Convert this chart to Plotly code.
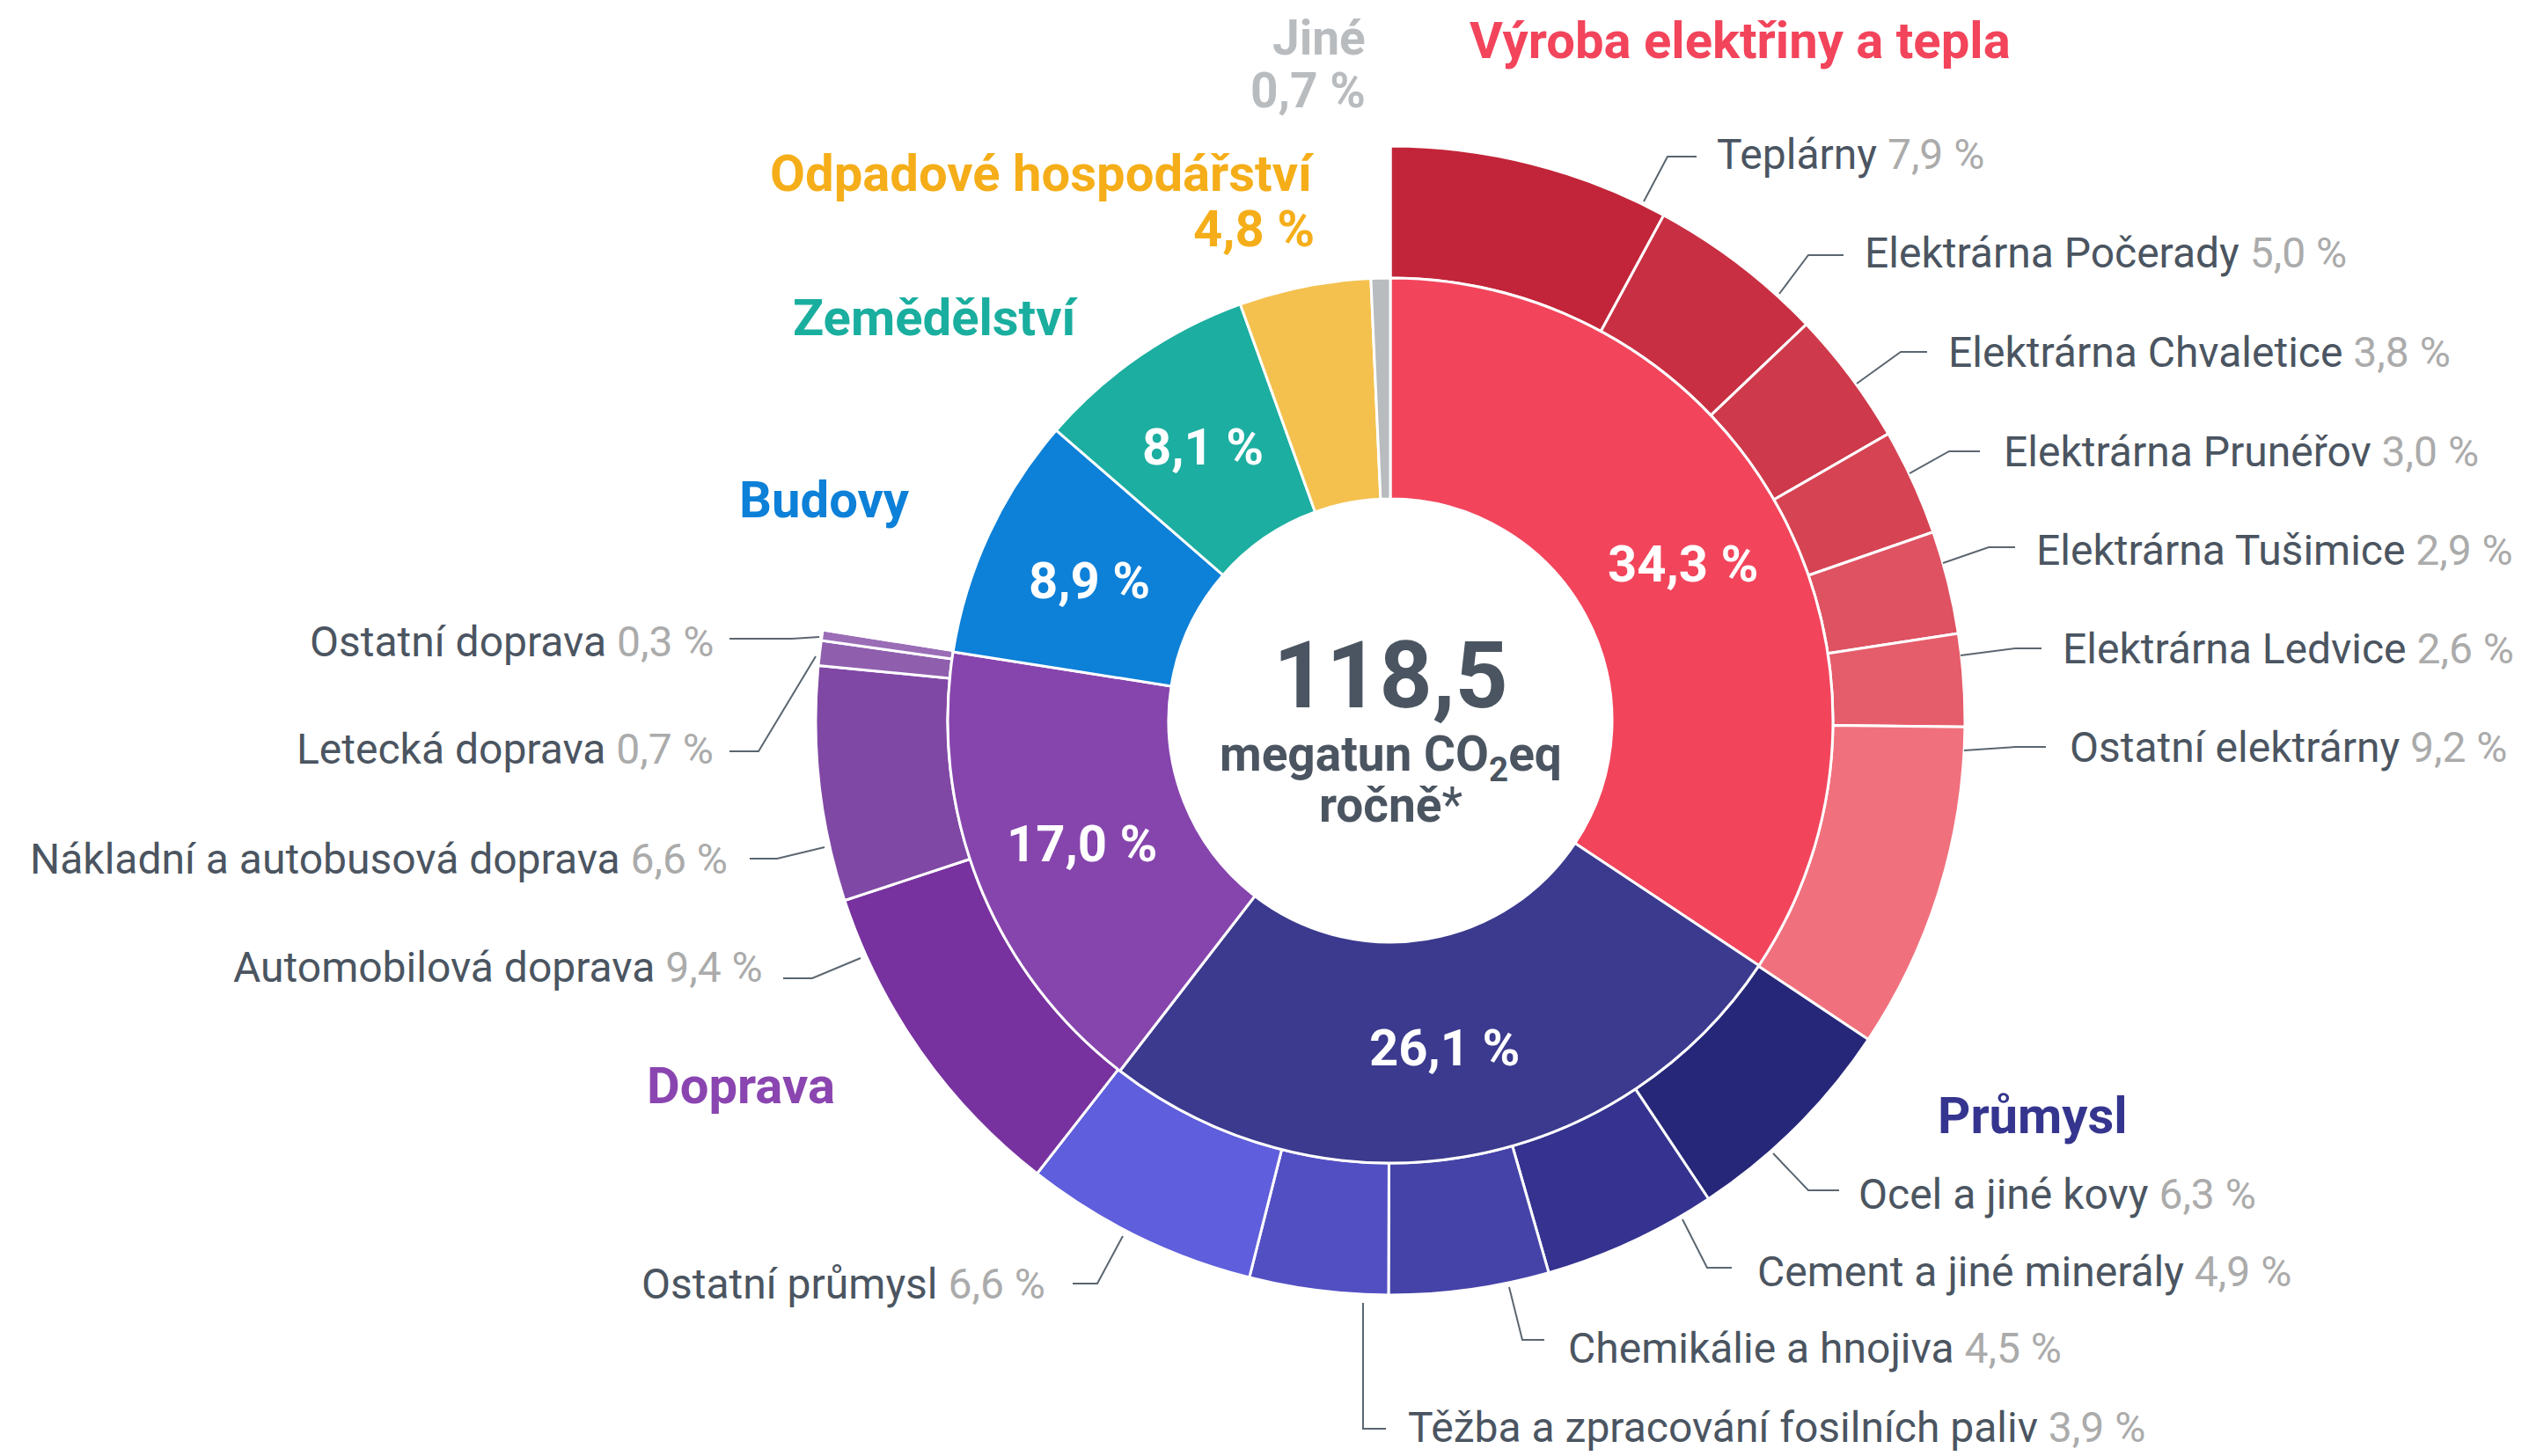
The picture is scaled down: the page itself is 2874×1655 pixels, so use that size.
import math
import plotly.graph_objects as go

# ---------------- data ----------------
sectors = ["Výroba elektřiny a tepla", "Průmysl", "Doprava", "Budovy",
           "Zemědělství", "Odpadové hospodářství", "Jiné"]
sector_values = [34.3, 26.1, 17.0, 8.9, 8.1, 4.8, 0.7]

power_labels = ["Teplárny", "Elektrárna Počerady", "Elektrárna Chvaletice",
                "Elektrárna Prunéřov", "Elektrárna Tušimice", "Elektrárna Ledvice",
                "Ostatní elektrárny"]
power_values = [7.9, 5.0, 3.8, 3.0, 2.9, 2.6, 9.2]

industry_labels = ["Ocel a jiné kovy", "Cement a jiné minerály", "Chemikálie a hnojiva",
                   "Těžba a zpracování fosilních paliv", "Ostatní průmysl"]
industry_values = [6.3, 4.9, 4.5, 3.9, 6.6]

transport_labels = ["Automobilová doprava", "Nákladní a autobusová doprava",
                    "Letecká doprava", "Ostatní doprava"]
transport_values = [9.4, 6.6, 0.7, 0.3]

total_mt = 118.5
center_unit = "megatun CO<sub>2</sub>eq"
center_period = "ročně"

# ---------------- styles ----------------
sector_colors = ["#F2455C", "#3B3A8E", "#8645AD", "#0D80D8", "#1CAEA0", "#F4C14F", "#B9BCBF"]
title_colors = ["#F2445B", "#35358F", "#8A45B0", "#0D80D8", "#1AAE9F", "#F5AE19", "#B9BCBF"]
power_colors = ["#C22539", "#C82F42", "#CE3A4B", "#D64453", "#DE5262", "#E55D6A", "#F0717D"]
industry_colors = ["#27277A", "#35338F", "#4543A8", "#524FC3", "#5F5EDC"]
transport_colors = ["#77329F", "#8048A5", "#8F5FAE", "#9B6DB7"]

DARK = "#4B5561"
GREY = "#ABABAB"
LEADER = "#5B6670"
FONT = "Roboto"

W, H = 2874, 1655
CX, CY = 1580, 819
R_OUT, R_MID, R_HOLE = 653, 503, 252


def fmt(v):
    return f"{v:.1f}".replace(".", ",") + " %"


def px(x):
    return x / W


def py(y):
    return 1 - y / H


def dom(r):
    return dict(x=[px(CX - r), px(CX + r)], y=[py(CY + r), py(CY - r)])


fig = go.Figure()

# outer ring (sub-sectors), remainder transparent
outer_vals = power_values + industry_values + transport_values + [sum(sector_values[3:])]
outer_labels = power_labels + industry_labels + transport_labels + ["_rest"]
outer_cols = power_colors + industry_colors + transport_colors + ["rgba(0,0,0,0)"]
fig.add_trace(go.Pie(
    values=outer_vals, labels=outer_labels, sort=False, direction="clockwise", rotation=0,
    hole=R_MID / R_OUT, domain=dom(R_OUT), textinfo="none", hoverinfo="skip",
    marker=dict(colors=outer_cols, line=dict(color="white", width=3)),
    showlegend=False,
))

# inner ring (sectors)
fig.add_trace(go.Pie(
    values=sector_values, labels=sectors, sort=False, direction="clockwise", rotation=0,
    hole=R_HOLE / R_MID, domain=dom(R_MID), textinfo="none", hoverinfo="skip",
    marker=dict(colors=sector_colors, line=dict(color="white", width=3)),
    showlegend=False,
))

annotations = []
shapes = []

# inner ring percentages
tot = sum(sector_values)
cum = 0.0
r_lab = (R_HOLE + R_MID) / 2
for v in sector_values:
    mid = (cum + v / 2) / tot * 2 * math.pi
    cum += v
    if v < 5:
        continue
    x = CX + r_lab * math.sin(mid)
    y = CY - r_lab * math.cos(mid)
    annotations.append(dict(x=px(x), y=py(y), xref="paper", yref="paper",
                            text=f"<b>{fmt(v)}</b>", showarrow=False,
                            font=dict(family=FONT, size=58, color="white"),
                            xanchor="center", yanchor="middle"))

# center text
annotations.append(dict(x=px(CX), y=py(768), xref="paper", yref="paper",
                        text="<b>" + f"{total_mt:.1f}".replace(".", ",") + "</b>",
                        showarrow=False, font=dict(family=FONT, size=105, color=DARK),
                        xanchor="center", yanchor="middle"))
annotations.append(dict(x=px(CX), y=py(861), xref="paper", yref="paper",
                        text=f"<b>{center_unit}</b>", showarrow=False,
                        font=dict(family=FONT, size=55, color=DARK),
                        xanchor="center", yanchor="middle"))
annotations.append(dict(x=px(CX), y=py(915), xref="paper", yref="paper",
                        text=f"<b>{center_period}</b>*", showarrow=False,
                        font=dict(family=FONT, size=55, color=DARK),
                        xanchor="center", yanchor="middle"))

# sector titles: (x, y, anchor, percent line y or None, font size)
title_pos = [
    (1668, 46, "left", None, 58),
    (2200, 1268, "left", None, 58),
    (951, 1234, "right", None, 58),
    (1036, 568, "right", None, 58),
    (1228, 361, "right", None, 58),
    (1496, 197, "right", 260, 58),
    (1554, 43, "right", 103, 55),
]
for name, v, col, (x, y, anc, y2, fs) in zip(sectors, sector_values, title_colors, title_pos):
    annotations.append(dict(x=px(x), y=py(y), xref="paper", yref="paper",
                            text=f"<b>{name}</b>", showarrow=False,
                            font=dict(family=FONT, size=fs, color=col),
                            xanchor=anc, yanchor="middle"))
    if y2 is not None:
        annotations.append(dict(x=px(x), y=py(y2), xref="paper", yref="paper",
                                text=f"<b>{fmt(v)}</b>", showarrow=False,
                                font=dict(family=FONT, size=fs, color=col),
                                xanchor=anc, yanchor="middle"))

# sub-sector labels with leader lines: (x, y, anchor, leader points)
sub_pos = [
    (1949, 176, "left", [(1868, 229), (1895, 178), (1928, 178)]),
    (2117, 288, "left", [(2022, 334), (2055, 290), (2095, 290)]),
    (2212, 400, "left", [(2110, 436), (2160, 400), (2190, 400)]),
    (2275, 513, "left", [(2170, 538), (2215, 513), (2250, 513)]),
    (2312, 625, "left", [(2208, 640), (2260, 622), (2290, 622)]),
    (2342, 737, "left", [(2228, 745), (2290, 737), (2320, 737)]),
    (2350, 849, "left", [(2232, 853), (2290, 849), (2325, 849)]),
    (2110, 1357, "left", [(2015, 1311), (2055, 1353), (2090, 1353)]),
    (1995, 1445, "left", [(1912, 1386), (1940, 1441), (1968, 1441)]),
    (1780, 1532, "left", [(1715, 1463), (1730, 1523), (1755, 1523)]),
    (1598, 1622, "left", [(1549, 1481), (1549, 1624), (1575, 1624)]),
    (1190, 1459, "right", [(1276, 1405), (1247, 1459), (1219, 1459)]),
    (869, 1099, "right", [(978, 1089), (923, 1112), (890, 1112)]),
    (829, 976, "right", [(937, 963), (883, 976), (852, 976)]),
    (813, 852, "right", [(927, 746), (862, 854), (829, 854)]),
    (813, 729, "right", [(931, 724), (900, 726), (829, 726)]),
]
sub_labels = power_labels + industry_labels + transport_labels
sub_values = power_values + industry_values + transport_values
for name, v, (x, y, anc, pts) in zip(sub_labels, sub_values, sub_pos):
    annotations.append(dict(x=px(x), y=py(y), xref="paper", yref="paper",
                            text=f"{name} <span style='color:{GREY}'>{fmt(v)}</span>",
                            showarrow=False, font=dict(family=FONT, size=48, color=DARK),
                            xanchor=anc, yanchor="middle"))
    path = "M " + " L ".join(f"{px(a):.5f},{py(b):.5f}" for a, b in pts)
    shapes.append(dict(type="path", path=path, xref="paper", yref="paper",
                       line=dict(color=LEADER, width=2)))

fig.update_layout(
    width=W, height=H, margin=dict(l=0, r=0, t=0, b=0),
    paper_bgcolor="white", plot_bgcolor="white",
    annotations=annotations, shapes=shapes,
    font=dict(family=FONT),
)

fig.write_html("out.html", config=dict(displayModeBar=False),
               post_script="document.body.style.margin='0';document.body.style.overflow='hidden';")
